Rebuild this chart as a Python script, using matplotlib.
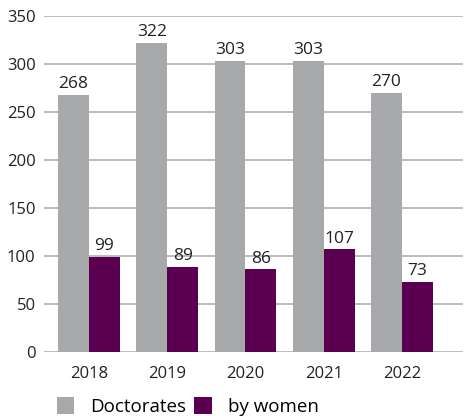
import numpy as np
import matplotlib.pyplot as plt

years = ["2018", "2019", "2020", "2021", "2022"]
doctorates = [268, 322, 303, 303, 270]
by_women = [99, 89, 86, 107, 73]

GRAY = "#a7a8aa"
PURPLE = "#5b0050"

plt.rcParams['font.family'] = ['Open Sans', 'DejaVu Sans']

fig = plt.figure(figsize=(4.76, 4.16), dpi=100)
ax = fig.add_axes([0.0924, 0.1538, 0.8803, 0.8077])

x = np.arange(len(years))
w = 0.395
b1 = ax.bar(x - w / 2, doctorates, w, color=GRAY, label="Doctorates", zorder=2)
b2 = ax.bar(x + w / 2, by_women, w, color=PURPLE, label="by women", zorder=2)

for bars in (b1, b2):
    ax.bar_label(bars, padding=2, fontsize=12.5, color="#222222")

ax.set_ylim(0, 350)
ax.set_xlim(-0.575, 4.78)
ax.set_yticks(range(0, 351, 50))
ax.set_xticks(x)
ax.set_xticklabels(years)
ax.yaxis.grid(True, color="#b0b0b0", linewidth=1.2, zorder=0)
ax.set_axisbelow(True)
for s in ax.spines.values():
    s.set_visible(False)
ax.tick_params(axis="both", length=0, labelsize=12, colors="#222222")
ax.tick_params(axis="x", pad=10)
ax.tick_params(axis="y", pad=6)

ax.legend(loc="upper left", bbox_to_anchor=(0.03, -0.135), ncol=2, frameon=False,
          fontsize=13.5, handlelength=0.95, handleheight=0.95, columnspacing=0.4,
          handletextpad=0.85, borderaxespad=0, borderpad=0)

fig.savefig("out.png", dpi=100)
